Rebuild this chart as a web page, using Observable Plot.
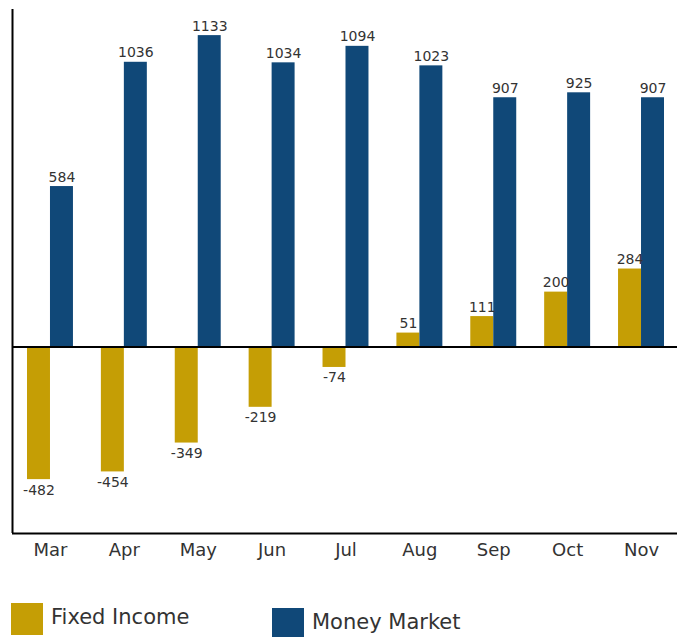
<!DOCTYPE html>
<html>
<head>
<meta charset="utf-8">
<script src="https://cdn.jsdelivr.net/npm/d3@7"></script>
<script src="https://cdn.jsdelivr.net/npm/@observablehq/plot@0.6"></script>
<style>
  body { margin: 0; background: #fff; font-family: "DejaVu Sans", Verdana, sans-serif; }
  #chart svg { display: block; }
  #legend { position: relative; width: 680px; height: 57px; }
  .item { position: absolute; display: flex; align-items: center; height: 32px; }
  .sw { width: 32px; height: 32px; }
  .lab { margin-left: 8px; font-size: 21px; color: #333; position: relative; top: -2px; }
</style>
</head>
<body>
<div id="chart"></div>
<div id="legend"></div>
<script>
const months = ["Mar", "Apr", "May", "Jun", "Jul", "Aug", "Sep", "Oct", "Nov"];
const fixedIncome = [-482, -454, -349, -219, -74, 51, 111, 200, 284];
const moneyMarket = [584, 1036, 1133, 1034, 1094, 1023, 907, 925, 907];
const seriesNames = ["Fixed Income", "Money Market"];
const seriesColors = ["#C59E05", "#104878"];

const W = 680, H = 580;
const xDomain = [-0.514, 8.487];
const yDomain = [-678, 1228];
const half = 0.311;

const fi = months.map((m, i) => ({i, month: m, value: fixedIncome[i]}));
const mm = months.map((m, i) => ({i, month: m, value: moneyMarket[i]}));

function labels(data, offset) {
  return [
    Plot.text(data.filter(d => d.value >= 0), {
      x: d => d.i + offset, y: "value", text: d => String(d.value),
      lineAnchor: "bottom", dy: -5, fill: "#333", fontSize: 14
    }),
    Plot.text(data.filter(d => d.value < 0), {
      x: d => d.i + offset, y: "value", text: d => String(d.value),
      lineAnchor: "top", dy: 5, fill: "#333", fontSize: 14
    })
  ];
}

const chart = Plot.plot({
  width: W,
  height: H,
  marginTop: 9,
  marginBottom: 47,
  marginLeft: 12,
  marginRight: 3,
  style: { fontFamily: "DejaVu Sans, Verdana, sans-serif", background: "#fff" },
  x: { type: "linear", domain: xDomain, axis: null },
  y: { domain: yDomain, axis: null },
  marks: [
    Plot.rectY(fi, { x1: d => d.i - half, x2: d => d.i, y1: 0, y2: "value", fill: seriesColors[0] }),
    Plot.rectY(mm, { x1: d => d.i, x2: d => d.i + half, y1: 0, y2: "value", fill: seriesColors[1] }),
    ...labels(fi, -half / 2),
    ...labels(mm, half / 2),
    Plot.ruleY([0], { stroke: "#000", strokeWidth: 2 }),
    Plot.ruleY([yDomain[0]], { stroke: "#000", strokeWidth: 2 }),
    Plot.ruleX([xDomain[0]], { stroke: "#000", strokeWidth: 2 }),
    Plot.axisX({
      ticks: d3.range(months.length),
      tickFormat: i => months[i],
      tickSize: 0,
      tickPadding: 10,
      fontSize: 18,
      fill: "#333",
      label: null
    })
  ]
});
document.getElementById("chart").appendChild(chart);

const legend = document.getElementById("legend");
const pos = [{left: 11, top: 23}, {left: 272, top: 28}];
seriesNames.forEach((name, k) => {
  const item = document.createElement("div");
  item.className = "item";
  item.style.left = pos[k].left + "px";
  item.style.top = pos[k].top + "px";
  const sw = document.createElement("div");
  sw.className = "sw";
  sw.style.background = seriesColors[k];
  const lab = document.createElement("span");
  lab.className = "lab";
  lab.textContent = name;
  item.appendChild(sw);
  item.appendChild(lab);
  legend.appendChild(item);
});
</script>
</body>
</html>
